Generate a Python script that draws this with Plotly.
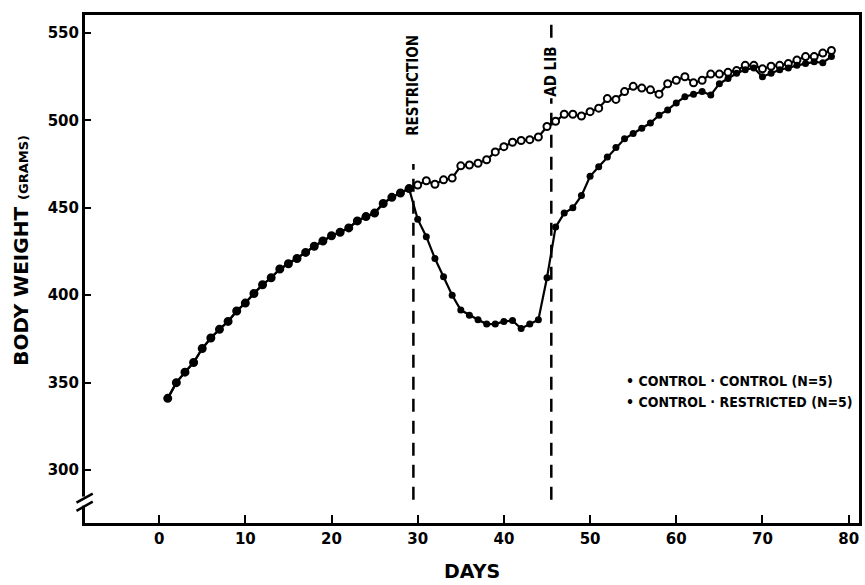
import plotly.graph_objects as go

# ---------------- data ----------------
days = list(range(1, 79))

shared_weight = [341, 350, 356, 361.5, 369.5, 375.5, 380.5, 385, 391, 395.5,
                 401, 406, 410, 415, 418, 421, 424.5, 428, 431, 434,
                 436, 438.5, 442.5, 445, 447, 452.5, 456, 458.5, 461]

control_after = [463, 465.5, 463.5, 466, 467, 474, 474.5, 475.5, 477.5, 482,
                 485, 487.5, 488.5, 489, 490.5, 496.5, 499.5, 503.5, 503.5, 502.5,
                 505, 507, 512.5, 512, 516.5, 519.5, 518.5, 517.5, 515, 521,
                 523, 525, 521.5, 523, 526.5, 526.5, 527.5, 528.5, 531.5, 531.5,
                 529.5, 531, 531.5, 532.5, 534.5, 536.5, 536.5, 538.5, 540]

restricted_after = [443.5, 433.5, 421, 410.5, 400, 391.5, 388.5, 386, 383.5, 383.5,
                    385, 385.5, 381, 383.5, 386, 410, 439, 447, 450, 457,
                    468, 473.5, 479, 484.5, 489.5, 492.5, 495.5, 498.5, 503, 506,
                    510, 513.5, 515, 516.5, 514.5, 521, 524, 527, 529, 530,
                    525, 527, 529, 530, 531.5, 532.5, 533.5, 533, 536.5]

control_weight = shared_weight + control_after
restricted_weight = shared_weight + restricted_after

restriction_day = 29.5
adlib_day = 45.5

x_ticks = [0, 10, 20, 30, 40, 50, 60, 70, 80]
y_ticks = [300, 350, 400, 450, 500, 550]
legend_labels = ["CONTROL \u00b7 CONTROL (N=5)", "CONTROL \u00b7 RESTRICTED (N=5)"]

# ---------------- styling ----------------
BOLD = "DejaVu Sans"
NARROW = "Liberation Sans Narrow, DejaVu Sans Condensed, Liberation Sans, Arial"

fig = go.Figure()

fig.add_trace(go.Scatter(
    x=days, y=control_weight, mode="lines+markers", name=legend_labels[0],
    line=dict(color="black", width=2.2),
    marker=dict(symbol="circle", size=7, color="white", line=dict(color="black", width=2)),
    showlegend=False))

fig.add_trace(go.Scatter(
    x=days, y=restricted_weight, mode="lines+markers", name=legend_labels[1],
    line=dict(color="black", width=2.2),
    marker=dict(symbol="circle", size=7, color="black"),
    showlegend=False))

# dashed event lines
fig.add_shape(type="line", xref="x", yref="y", x0=restriction_day, x1=restriction_day,
              y0=283, y1=475, line=dict(color="black", width=2.5, dash="13px,9px"))
fig.add_shape(type="line", xref="x", yref="y", x0=adlib_day, x1=adlib_day,
              y0=283, y1=558, line=dict(color="black", width=2.5, dash="13px,9px"))

fig.add_annotation(x=restriction_day, y=520, xref="x", yref="y", text="RESTRICTION",
                   textangle=-90, showarrow=False, bgcolor="white",
                   font=dict(family=NARROW, size=15, color="black", weight="bold"))
fig.add_annotation(x=adlib_day, y=528, xref="x", yref="y", text="AD LIB",
                   textangle=-90, showarrow=False, bgcolor="white",
                   font=dict(family=NARROW, size=15, color="black", weight="bold"))

# legend as text
for i, lab in enumerate(legend_labels):
    fig.add_annotation(x=0.697, y=0.2795 - i * 0.041, xref="paper", yref="paper",
                       xanchor="left", yanchor="middle", showarrow=False,
                       text="\u2022 " + lab,
                       font=dict(family=NARROW, size=14, color="black", weight="bold"))

# axis titles
fig.add_annotation(x=-0.082, y=0.537, xref="paper", yref="paper", textangle=-90,
                   showarrow=False, xanchor="center", yanchor="middle",
                   text="BODY WEIGHT <span style='font-size:13px'>(GRAMS)</span>",
                   font=dict(family=BOLD, size=20, color="black", weight="bold"))
fig.add_annotation(x=0.5, y=-0.095, xref="paper", yref="paper", showarrow=False,
                   xanchor="center", yanchor="middle", text="DAYS",
                   font=dict(family=BOLD, size=19, color="black", weight="bold"))

# y-axis break mark
fig.add_shape(type="rect", xref="paper", yref="paper", x0=-0.006, x1=0.006,
              y0=0.034, y1=0.052, fillcolor="white", line=dict(width=0), layer="above")
fig.add_shape(type="line", xref="paper", yref="paper", x0=-0.011, x1=0.010,
              y0=0.040, y1=0.058, line=dict(color="black", width=2.5), layer="above")
fig.add_shape(type="line", xref="paper", yref="paper", x0=-0.011, x1=0.010,
              y0=0.024, y1=0.042, line=dict(color="black", width=2.5), layer="above")

fig.update_xaxes(range=[-8.6, 81.2], tickvals=x_ticks, ticks="inside", ticklen=8,
                 tickwidth=2, tickcolor="black", showline=True, linewidth=3,
                 linecolor="black", mirror=True, showgrid=False, zeroline=False,
                 tickfont=dict(family=BOLD, size=15, color="black", weight="bold"))
fig.update_yaxes(range=[269.7, 560.3], tickvals=y_ticks, ticks="inside", ticklen=6,
                 tickwidth=2, tickcolor="black", showline=True, linewidth=3,
                 linecolor="black", mirror=True, showgrid=False, zeroline=False,
                 tickfont=dict(family=BOLD, size=15, color="black", weight="bold"))

fig.update_layout(width=865, height=585, margin=dict(l=85, r=3, t=15, b=62),
                  paper_bgcolor="white", plot_bgcolor="white", showlegend=False)

# remove the default page margin so the figure fills the window exactly
fig.write_html("out.html", config={"displayModeBar": False},
               post_script="document.body.style.margin='0';document.body.style.overflow='hidden';")
